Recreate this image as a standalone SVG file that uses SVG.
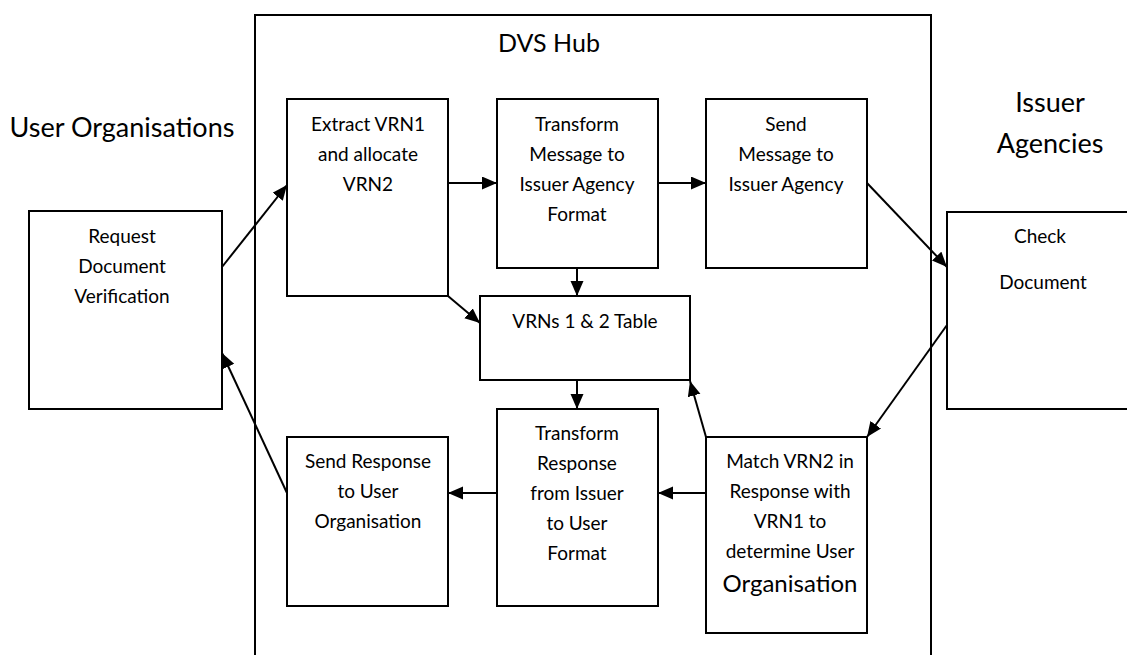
<svg xmlns="http://www.w3.org/2000/svg" width="1127" height="655" viewBox="0 0 1127 655">
<style>
.box{fill:#fff;stroke:#000;stroke-width:2}
.t{font-family:Lato,"Liberation Sans",sans-serif;font-size:19px;fill:#000;text-anchor:middle}
.h{font-family:Lato,"Liberation Sans",sans-serif;font-size:27px;fill:#000;text-anchor:middle}
.c{stroke:#000;stroke-width:2;fill:none;marker-end:url(#ah)}
</style>
<defs>
<marker id="ah" markerUnits="userSpaceOnUse" markerWidth="16" markerHeight="14" refX="15" refY="6.5" orient="auto">
<path d="M0,0 L15,6.5 L0,13 z" fill="#000"/>
</marker>
</defs>
<rect width="1127" height="655" fill="#fff"/>
<g id="hub">
<rect class="box" x="255" y="15" width="676" height="700"/>
<text class="h" x="549" y="52" style="font-size:25px">DVS Hub</text>
</g>
<g id="user-organisations">
<text class="h" x="122" y="137">User Organisations</text>
</g>
<g id="issuer-agencies">
<text class="h" x="1050" y="112">Issuer</text>
<text class="h" x="1050" y="153">Agencies</text>
</g>
<g id="request">
<rect class="box" x="29" y="211" width="193" height="198"/>
<text class="t" x="122" y="243">Request</text>
<text class="t" x="122" y="273">Document</text>
<text class="t" x="122" y="303">Verification</text>
</g>
<g id="extract">
<rect class="box" x="287" y="99" width="161" height="197"/>
<text class="t" x="368" y="131">Extract VRN1</text>
<text class="t" x="368" y="161">and allocate</text>
<text class="t" x="368" y="191">VRN2</text>
</g>
<g id="transform-message">
<rect class="box" x="497" y="99" width="161" height="169"/>
<text class="t" x="577" y="131">Transform</text>
<text class="t" x="577" y="161">Message to</text>
<text class="t" x="577" y="191">Issuer Agency</text>
<text class="t" x="577" y="221">Format</text>
</g>
<g id="send-message">
<rect class="box" x="706" y="99" width="161" height="169"/>
<text class="t" x="786" y="131">Send</text>
<text class="t" x="786" y="161">Message to</text>
<text class="t" x="786" y="191">Issuer Agency</text>
</g>
<g id="check-document">
<rect class="box" x="947" y="212" width="200" height="197"/>
<text class="t" x="1040" y="243">Check</text>
<text class="t" x="1043" y="289">Document</text>
</g>
<g id="vrn-table">
<rect class="box" x="480" y="296" width="210" height="84"/>
<text class="t" x="585" y="328">VRNs 1 &amp; 2 Table</text>
</g>
<g id="send-response">
<rect class="box" x="287" y="437" width="161" height="169"/>
<text class="t" x="368" y="468">Send Response</text>
<text class="t" x="368" y="498">to User</text>
<text class="t" x="368" y="528">Organisation</text>
</g>
<g id="transform-response">
<rect class="box" x="497" y="409" width="161" height="197"/>
<text class="t" x="577" y="440">Transform</text>
<text class="t" x="577" y="470">Response</text>
<text class="t" x="577" y="500">from Issuer</text>
<text class="t" x="577" y="530">to User</text>
<text class="t" x="577" y="560">Format</text>
</g>
<g id="match">
<rect class="box" x="706" y="437" width="161" height="196"/>
<text class="t" x="790" y="468">Match VRN2 in</text>
<text class="t" x="790" y="498">Response with</text>
<text class="t" x="790" y="528">VRN1 to</text>
<text class="t" x="790" y="558">determine User</text>
<text class="t" x="790" y="592" style="font-size:24px">Organisation</text>
</g>
<g id="connectors">
<line class="c" x1="222" y1="267" x2="287" y2="185"/>
<line class="c" x1="448" y1="183" x2="497" y2="183"/>
<line class="c" x1="658" y1="183" x2="706" y2="183"/>
<line class="c" x1="867" y1="183" x2="947" y2="267"/>
<line class="c" x1="577" y1="268" x2="577" y2="296"/>
<line class="c" x1="448" y1="296" x2="480" y2="323"/>
<line class="c" x1="577" y1="380" x2="577" y2="409"/>
<line class="c" x1="947" y1="325" x2="867" y2="437"/>
<line class="c" x1="706" y1="437" x2="690" y2="381"/>
<line class="c" x1="706" y1="493" x2="658" y2="493"/>
<line class="c" x1="497" y1="493" x2="448" y2="493"/>
<line class="c" x1="287" y1="493" x2="222" y2="353"/>
</g>
</svg>
